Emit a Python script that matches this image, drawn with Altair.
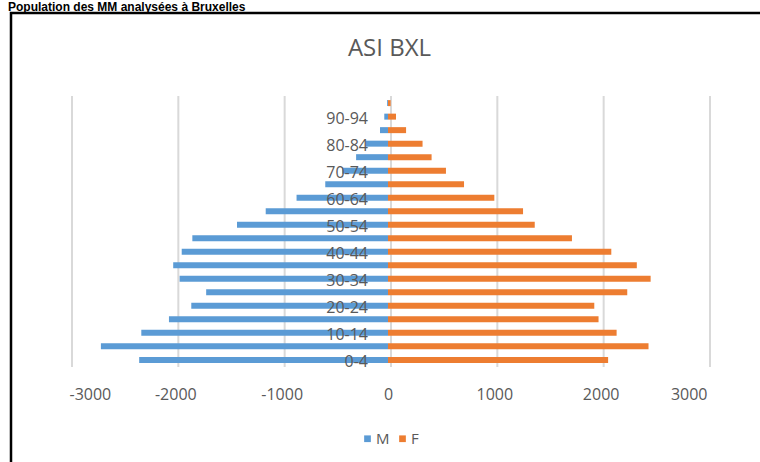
import altair as alt
import pandas as pd

ages = ["0-4", "5-9", "10-14", "15-19", "20-24", "25-29", "30-34", "35-39",
        "40-44", "45-49", "50-54", "55-59", "60-64", "65-69", "70-74",
        "75-79", "80-84", "85-89", "90-94", "95+"]
male = [2340, 2700, 2320, 2060, 1850, 1710, 1960, 2020, 1940, 1840,
        1420, 1150, 860, 590, 430, 300, 210, 75, 35, 8]
female = [2070, 2450, 2150, 1980, 1940, 2250, 2470, 2340, 2100, 1730,
          1380, 1270, 1000, 715, 545, 410, 325, 170, 75, 25]
shown_labels = ["0-4", "10-14", "20-24", "30-34", "40-44", "50-54",
                "60-64", "70-74", "80-84", "90-94"]
ticks = [-3000, -2000, -1000, 0, 1000, 2000, 3000]
outer_title = "Population des MM analysées à Bruxelles"
chart_title = "ASI BXL"

rows = []
for a, m, f in zip(ages, male, female):
    rows.append({"age": a, "sexe": "M", "valeur": -m})
    rows.append({"age": a, "sexe": "F", "valeur": f})
df = pd.DataFrame(rows)
lab_df = pd.DataFrame({"age": shown_labels, "zero": [0] * len(shown_labels)})
grid_df = pd.DataFrame({"g": ticks})
one = pd.DataFrame({"k": [0]})

FONT = "Open Sans"
GREY = "#595959"
order = list(reversed(ages))

# bars sit on the front plane, slightly left of the back-plane gridlines
x_scale = alt.Scale(domain=[-3000, 3000], nice=False, range=[-3, 635])
grid_scale = alt.Scale(domain=[-3000, 3000], nice=False, range=[0, 638])
y_scale = alt.Scale(domain=order, paddingInner=0.556, paddingOuter=0.305)

grid = alt.Chart(grid_df).mark_rule(color="#d9d9d9", strokeWidth=2).encode(
    x=alt.X("g:Q", scale=grid_scale, axis=None)
)

bars = alt.Chart(df).mark_bar().encode(
    x=alt.X("valeur:Q", scale=x_scale, title=None,
            axis=alt.Axis(values=ticks, grid=False,
                          domain=False, ticks=False, labelFontSize=16, labelColor=GREY,
                          labelFont=FONT, labelPadding=19,
                          labelExpr="datum.value < 0 ? '-' + format(-datum.value, 'd') : format(datum.value, 'd')")),
    y=alt.Y("age:N", scale=y_scale, axis=None, sort=order),
    color=alt.Color("sexe:N", scale=alt.Scale(domain=["M", "F"], range=["#5B9BD5", "#ED7D31"]),
                    legend=alt.Legend(title=None, orient="none", direction="horizontal",
                                      legendX=288, legendY=335, symbolType="square",
                                      symbolSize=45, symbolStrokeWidth=0, labelFontSize=15,
                                      labelColor=GREY, labelFont=FONT, labelOffset=1,
                                      columnPadding=5)),
)

labels = alt.Chart(lab_df).mark_text(align="right", baseline="middle", dx=-20, dy=2,
                                     fontSize=16, color=GREY, font=FONT).encode(
    x=alt.X("zero:Q", scale=x_scale),
    y=alt.Y("age:N", scale=y_scale, sort=order),
    text="age:N",
)

border = alt.Chart(one).mark_rect(fill=None, stroke="black", strokeWidth=2.5).encode(
    x=alt.value(-61), x2=alt.value(720), y=alt.value(-83), y2=alt.value(420)
)

top_title = alt.Chart(one).mark_text(align="left", baseline="alphabetic", fontSize=12,
                                     fontWeight="bold", font="Liberation Sans", color="black").encode(
    x=alt.value(-64), y=alt.value(-85), text=alt.value(outer_title)
)

asi = alt.Chart(one).mark_text(align="center", baseline="alphabetic", fontSize=24,
                               font=FONT, color=GREY).encode(
    x=alt.value(317.5), y=alt.value(-40), text=alt.value(chart_title)
)

main = alt.layer(bars, labels).resolve_scale(x="shared", y="shared")

chart = alt.layer(border, top_title, asi, grid, main).properties(
    width=638, height=271, autosize="none",
    padding={"left": 72, "top": 96, "right": 50, "bottom": 95},
).configure_view(stroke=None).resolve_scale(x="independent")

chart.save("out.html", embed_options={"renderer": "svg", "actions": False})
